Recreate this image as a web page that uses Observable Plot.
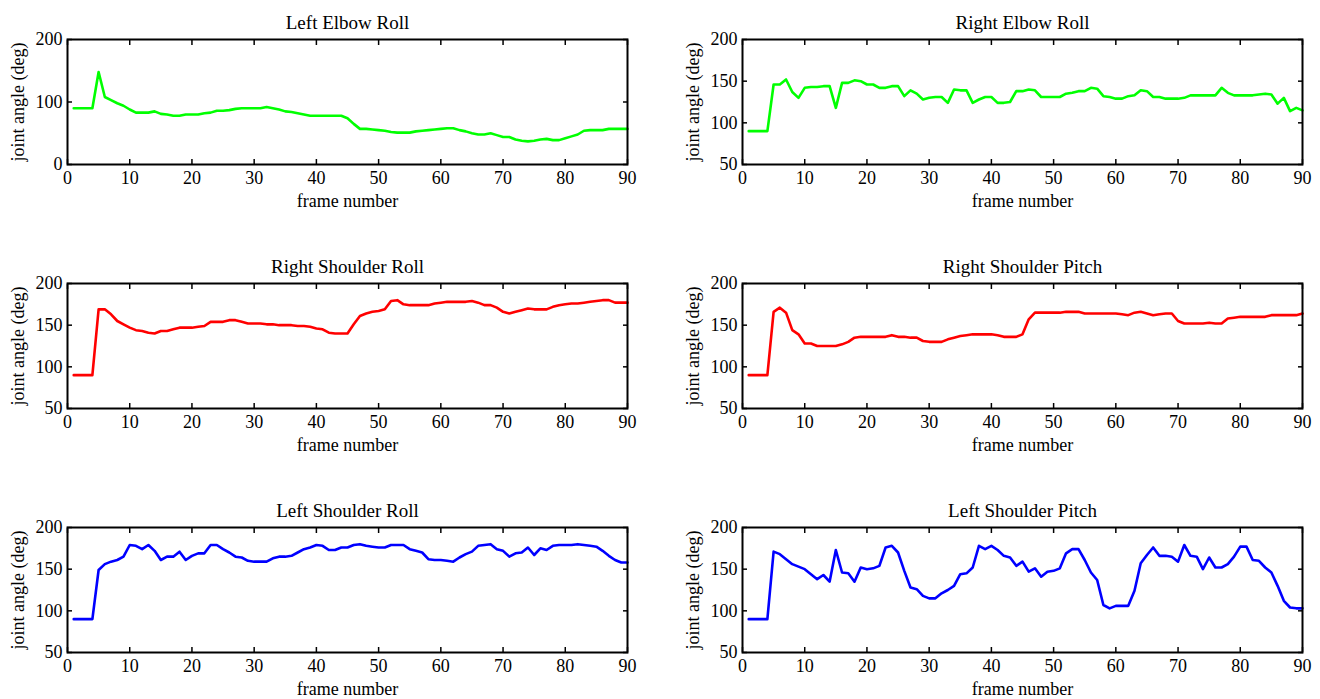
<!DOCTYPE html>
<html><head><meta charset="utf-8">
<script src="https://cdn.jsdelivr.net/npm/d3@7"></script>
<script src="https://cdn.jsdelivr.net/npm/@observablehq/plot@0.6"></script>
<style>
html,body{margin:0;padding:0;background:#fff;overflow:hidden}
#wrap{position:relative;width:1320px;height:699px}
.panel{position:absolute}
</style></head><body><div id="wrap"></div>
<script>
const frames = d3.range(1, 91);
const xTicks = [0,10,20,30,40,50,60,70,80,90];
const yTicksA = [0,100,200];
const yTicksB = [50,100,150,200];

const leftElbowRoll = [90,90,90,90,148,108,103,98,94,88,83,83,83,85,81,80,78,78,80,80,80,82,83,86,86,87,89,90,90,90,90,92,90,88,85,84,82,80,78,78,78,78,78,78,74,65,57,57,56,55,54,52,51,51,51,53,54,55,56,57,58,58,55,53,50,48,48,50,47,44,44,40,38,37,38,40,41,39,39,42,45,48,54,55,55,55,57,57,57,57];
const rightElbowRoll = [90,90,90,90,146,146,152,137,130,142,143,143,144,144,118,148,148,151,150,146,146,142,142,144,144,132,139,135,128,130,131,131,124,140,139,139,124,128,131,131,124,124,125,138,138,140,139,131,131,131,131,135,136,138,138,142,141,132,131,129,129,132,133,139,138,131,131,129,129,129,130,133,133,133,133,133,142,136,133,133,133,133,134,135,134,123,130,114,118,115];
const rightShoulderRoll = [90,90,90,90,169,169,163,155,151,147,144,143,141,140,143,143,145,147,147,147,148,149,154,154,154,156,156,154,152,152,152,151,151,150,150,150,149,149,148,146,145,141,140,140,140,151,161,164,166,167,169,179,180,175,174,174,174,174,176,177,178,178,178,178,179,177,174,174,171,166,164,166,168,170,169,169,169,172,174,175,176,176,177,178,179,180,180,177,177,177];
const rightShoulderPitch = [90,90,90,90,166,171,165,144,139,128,128,125,125,125,125,127,130,135,136,136,136,136,136,138,136,136,135,135,131,130,130,130,133,135,137,138,139,139,139,139,138,136,136,136,139,157,165,165,165,165,165,166,166,166,164,164,164,164,164,164,163,162,165,166,164,162,163,164,164,155,152,152,152,152,153,152,152,158,159,160,160,160,160,160,162,162,162,162,162,164];
const leftShoulderRoll = [90,90,90,90,149,156,159,161,165,179,178,174,179,172,161,165,165,171,161,166,169,169,179,179,174,170,165,164,160,159,159,159,163,165,165,166,170,174,176,179,178,173,173,176,176,179,180,178,177,176,176,179,179,179,174,172,170,162,161,161,160,159,164,168,171,178,179,180,174,172,165,169,170,176,167,175,173,178,179,179,179,180,179,178,177,172,166,161,158,158];
const leftShoulderPitch = [90,90,90,90,171,168,162,156,153,150,144,138,143,135,173,146,145,135,152,150,151,154,176,178,170,148,128,126,118,115,115,121,125,130,144,145,152,178,174,178,173,166,164,154,159,147,151,141,147,148,151,169,174,174,161,146,137,107,103,106,106,106,124,157,167,176,166,166,165,159,179,166,165,150,164,152,152,156,165,177,177,161,160,152,146,130,112,104,103,103];

const titles = ["Left Elbow Roll","Right Elbow Roll","Right Shoulder Roll","Right Shoulder Pitch","Left Shoulder Roll","Left Shoulder Pitch"];
const seriesList = [leftElbowRoll, rightElbowRoll, rightShoulderRoll, rightShoulderPitch, leftShoulderRoll, leftShoulderPitch];
const colors = ["#00ff00","#00ff00","#ff0000","#ff0000","#0000ff","#0000ff"];
const xLabel = "frame number";
const yLabel = "joint angle (deg)";

const rowTops = [39, 283, 527];
const wrap = document.getElementById("wrap");

seriesList.forEach((values, k) => {
  const row = Math.floor(k / 2), col = k % 2;
  const W = 660, H = 211, mT = 39, mB = H - 39 - 125;
  const mL = col === 0 ? 67 : 82;
  const mR = W - mL - 560;
  const yDomain = k === 0 ? [0, 200] : [50, 200];
  const yTicks = k === 0 ? yTicksA : yTicksB;
  const chart = Plot.plot({
    width: W, height: H,
    marginLeft: mL, marginRight: mR, marginTop: mT, marginBottom: mB,
    x: {domain: [0, 90]},
    y: {domain: yDomain},
    style: {fontFamily: "'Liberation Serif', 'Times New Roman', serif", fontSize: "18px", color: "#000", background: "transparent", overflow: "visible"},
    marks: [
      Plot.axisX({ticks: xTicks, tickSize: -5, tickPadding: 12, label: null, strokeWidth: 1.5}),
      Plot.axisX({anchor: "top", ticks: xTicks, tickSize: -5, tickFormat: () => "", label: null, strokeWidth: 1.5}),
      Plot.axisY({ticks: yTicks, tickSize: -5, tickPadding: 10, label: null, strokeWidth: 1.5}),
      Plot.axisY({anchor: "right", ticks: yTicks, tickSize: -5, tickFormat: () => "", label: null, strokeWidth: 1.5}),
      Plot.line(frames, {x: d => d, y: (d, i) => values[i], stroke: colors[k], strokeWidth: 2.6}),
      Plot.frame({stroke: "#000", strokeWidth: 2}),
      Plot.text([titles[k]], {frameAnchor: "top", lineAnchor: "middle", dy: -17, text: d => d, fontSize: 19}),
      Plot.text([xLabel], {frameAnchor: "bottom", lineAnchor: "middle", dy: 37, text: d => d}),
      Plot.text([yLabel], {frameAnchor: "left", textAnchor: "middle", lineAnchor: "middle", dx: -49, rotate: -90, text: d => d})
    ]
  });
  chart.classList.add("panel");
  chart.style.left = (col * 660) + "px";
  chart.style.top = (rowTops[row] - mT) + "px";
  wrap.appendChild(chart);
});
</script>
</body></html>
